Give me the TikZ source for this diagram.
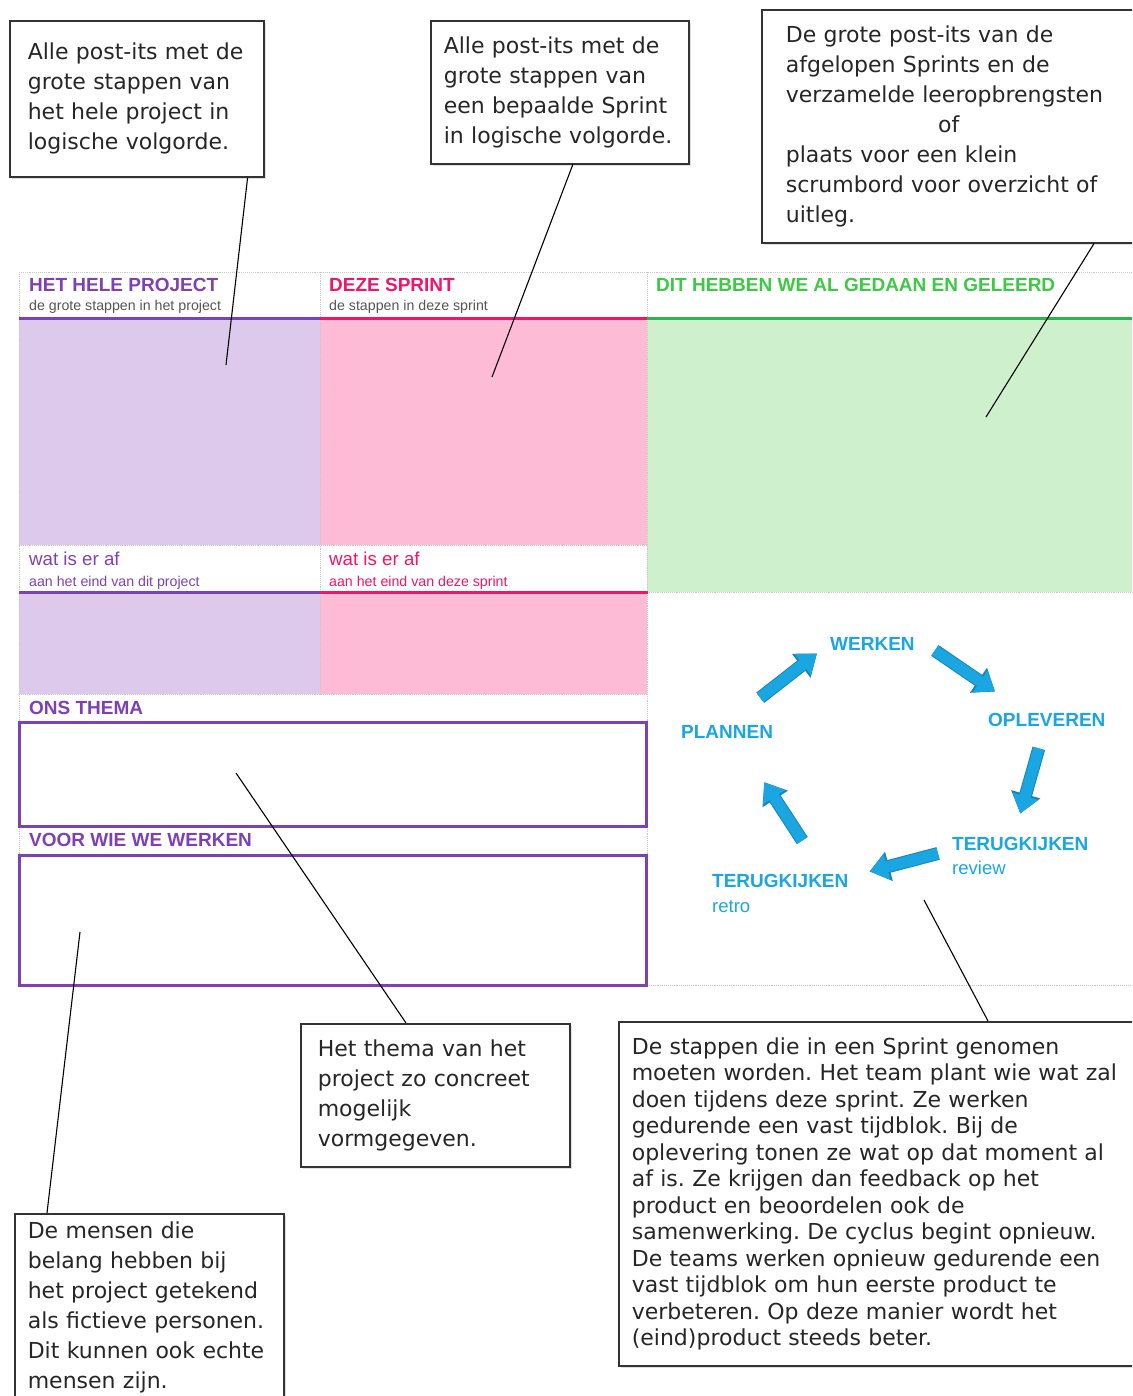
\documentclass[tikz,border=0pt]{standalone}
\usepackage{fontspec}
\setmainfont{DejaVu Sans}
\newfontfamily\boardfont{Liberation Sans}
\usetikzlibrary{arrows.meta, shadows}
\definecolor{projpurple}{HTML}{7E40B6}
\definecolor{projlilac}{HTML}{DDC9EC}
\definecolor{sprintpink}{HTML}{F2136A}
\definecolor{sprintrose}{HTML}{FDBBD5}
\definecolor{donegreen}{HTML}{3CC944}
\definecolor{doneline}{HTML}{2BB54B}
\definecolor{donemint}{HTML}{CEF0CC}
\definecolor{cycleblue}{HTML}{1AA6E1}
\definecolor{cycledark}{HTML}{1485BA}
\definecolor{cellgray}{HTML}{C8C8C8}
\definecolor{subgray}{HTML}{555555}
\tikzset{
    callout/.style    = {draw=black!80, line width=1.6pt, fill=white, rectangle, anchor=north west, align=left, text=black!85, font=\fontsize{22}{30}\selectfont, drop shadow={shadow xshift=2pt, shadow yshift=-2pt, opacity=0.25}},
    colhead/.style    = {anchor=base west, inner sep=0pt, font=\boardfont\bfseries\fontsize{19}{21}\selectfont},
    colsub/.style     = {anchor=base west, inner sep=0pt, font=\boardfont\fontsize{14.2}{16}\selectfont},
    colwat/.style     = {anchor=base west, inner sep=0pt, font=\boardfont\fontsize{18.7}{20}\selectfont},
    cyclabel/.style   = {anchor=base west, inner sep=0pt, text=cycleblue, font=\boardfont\bfseries\fontsize{19}{21}\selectfont},
    cycsub/.style     = {anchor=base west, inner sep=0pt, text=cycleblue, font=\boardfont\fontsize{18.5}{20}\selectfont},
    cyclearrow/.style = {draw=cycleblue, line width=11pt, -{Triangle[length=18pt, width=25pt]}, preaction={draw=cycledark, line width=13pt, -{Triangle[length=20pt, width=29pt]}}},
    cellline/.style   = {draw=cellgray, densely dotted, line width=0.9pt},
    themebox/.style   = {draw=projpurple, line width=3pt},
    pointer/.style    = {draw=black, line width=1.1pt},
}

\begin{document}
\frenchspacing
\begin{tikzpicture}[x=1pt, y=-1pt]
  \useasboundingbox (0,0) rectangle (1132,1396);
  \clip (0,0) rectangle (1132,1396);
  % board fills
  \fill[projlilac]  (19,318)  rectangle (320,545);
  \fill[sprintrose] (320,318) rectangle (647,545);
  \fill[donemint]   (647,318) rectangle (1132,592);
  \fill[projlilac]  (19,592)  rectangle (320,694);
  \fill[sprintrose] (320,592) rectangle (647,694);
  % cell borders
  \draw[cellline] (19,272) -- (1132,272);
  \draw[cellline] (19,272) -- (19,985);
  \draw[cellline] (320,272) -- (320,694);
  \draw[cellline] (647,272) -- (647,985);
  \draw[cellline] (19,545) -- (647,545);
  \draw[cellline] (647,592) -- (1132,592);
  \draw[cellline] (19,694) -- (647,694);
  \draw[cellline] (647,985) -- (1132,985);
  % coloured rules
  \draw[projpurple, line width=3pt] (19,318) -- (320,318);
  \draw[sprintpink, line width=3pt] (320,318) -- (647,318);
  \draw[doneline, line width=3pt] (647,318) -- (1132,318);
  \draw[projpurple, line width=3pt] (19,592) -- (320,592);
  \draw[sprintpink, line width=3pt] (320,592) -- (648,592);
  \draw[themebox] (19,722) rectangle (646,826);
  \draw[themebox] (19,855) rectangle (646,985);
  % column texts
  \node[colhead, text=projpurple] (hproj) at (29,291) {HET HELE PROJECT};
  \node[colsub, text=subgray] (sproj) at (29,311) {de grote stappen in het project};
  \node[colhead, text=sprintpink] (hsprint) at (329,291) {DEZE SPRINT};
  \node[colsub, text=subgray] (ssprint) at (329,311) {de stappen in deze sprint};
  \node[colhead, text=donegreen] (hdone) at (656,291) {DIT HEBBEN WE AL GEDAAN EN GELEERD};
  \node[colwat, text=projpurple] (wproj) at (29,565) {wat is er af};
  \node[colsub, text=projpurple] (aproj) at (29,586) {aan het eind van dit project};
  \node[colwat, text=sprintpink] (wsprint) at (329,565) {wat is er af};
  \node[colsub, text=sprintpink] (asprint) at (329,586) {aan het eind van deze sprint};
  \node[colhead, text=projpurple] (hthema) at (29,714) {ONS THEMA};
  \node[colhead, text=projpurple] (hwie) at (29,846) {VOOR WIE WE WERKEN};
  % sprint cycle
  \node[cyclabel] (werk) at (830,650) {WERKEN};
  \node[cyclabel] (oplev) at (988,726) {OPLEVEREN};
  \node[cyclabel] (plan) at (681,738) {PLANNEN};
  \node[cyclabel] (review) at (952,850) {TERUGKIJKEN};
  \node[cycsub] (reviewsub) at (952,874) {review};
  \node[cyclabel] (retro) at (712,887) {TERUGKIJKEN};
  \node[cycsub] (retrosub) at (712,912) {retro};
  \draw[cyclearrow] ([shift={(-13,-27)}]plan.north east) -- ([shift={(-13,10)}]werk.west);
  \draw[cyclearrow] ([shift={(20,7)}]werk.east) -- ([shift={(7,-21)}]oplev.north west);
  \draw[cyclearrow] ([shift={(-8,22)}]oplev.south) -- ([shift={(0,-23)}]review.north);
  \draw[cyclearrow] ([shift={(-14,10)}]review.west) -- ([shift={(21,-9)}]retro.east);
  \draw[cyclearrow] ([shift={(22,-33)}]retro.north) -- ([shift={(-9,44)}]plan.south east);
  % callouts
  \node[callout, inner xsep=18pt, text width=218pt, minimum height=156pt] (noteproj) at (9,20)
    {Alle post-its met de\\grote stappen van\\het hele project in\\logische volgorde.};
  \node[callout, inner xsep=13pt, text width=232pt, minimum height=143pt] (notesprint) at (430,20)
    {Alle post-its met de\\grote stappen van\\een bepaalde Sprint\\in logische volgorde.};
  \node[callout, inner xsep=24pt, text width=326pt, minimum height=233pt] (notedone) at (761,9)
    {De grote post-its van de\\afgelopen Sprints en de\\verzamelde leeropbrengsten\\\makebox[326pt]{of}\\plaats voor een klein\\scrumbord voor overzicht of\\uitleg.};
  \node[callout, inner xsep=17pt, text width=235pt, minimum height=143pt] (notethema) at (300,1023)
    {Het thema van het\\project zo concreet\\mogelijk\\vormgegeven.};
  \node[callout, inner xsep=13pt, text width=243pt, minimum height=188pt] (notewie) at (14,1213)
    {De mensen die\\belang hebben bij\\het project getekend\\als fictieve personen.\\Dit kunnen ook echte\\mensen zijn.};
  \node[callout, inner xsep=13pt, text width=490pt, minimum height=344pt, font=\fontsize{22}{26.5}\selectfont] (notecycle) at (618,1021)
    {De stappen die in een Sprint genomen\\moeten worden. Het team plant wie wat zal\\doen tijdens deze sprint. Ze werken\\gedurende een vast tijdblok. Bij de\\oplevering tonen ze wat op dat moment al\\af is. Ze krijgen dan feedback op het\\product en beoordelen ook de\\samenwerking. De cyclus begint opnieuw.\\De teams werken opnieuw gedurende een\\vast tijdblok om hun eerste product te\\verbeteren. Op deze manier wordt het\\(eind)product steeds beter.};
  % pointers
  \coordinate (ptproj) at (226,365);
  \coordinate (ptsprint) at (492,377);
  \coordinate (ptdone) at (986,417);
  \coordinate (ptthema) at (236,773);
  \coordinate (ptwie) at (80,932);
  \coordinate (ptcycle) at (924,900);
  \draw[pointer] ([xshift=-17pt]noteproj.south east) -- (ptproj);
  \draw[pointer] ([xshift=13pt]notesprint.south) -- (ptsprint);
  \draw[pointer] ([xshift=333pt]notedone.south west) -- (ptdone);
  \draw[pointer] ([xshift=106pt]notethema.north west) -- (ptthema);
  \draw[pointer] ([xshift=33pt]notewie.north west) -- (ptwie);
  \draw[pointer] ([xshift=370pt]notecycle.north west) -- (ptcycle);
\end{tikzpicture}
\end{document}
